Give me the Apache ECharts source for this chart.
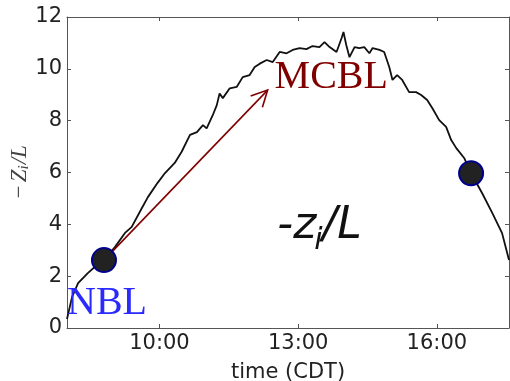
<!DOCTYPE html>
<html><head><meta charset="utf-8">
<script src="https://cdn.jsdelivr.net/npm/echarts@6/dist/echarts.min.js"></script>
<style>html,body{margin:0;padding:0;background:#fff}#c{width:510px;height:381px}</style>
</head><body><div id="c"></div>
<script>
// time in decimal hours (CDT)
const times = [8.00,8.11,8.24,8.45,8.63,8.80,9.04,9.25,9.40,9.62,9.75,9.96,10.12,10.33,10.48,10.66,10.81,10.94,11.02,11.15,11.24,11.30,11.37,11.52,11.67,11.80,11.95,12.06,12.17,12.32,12.45,12.60,12.75,12.88,13.03,13.18,13.31,13.46,13.57,13.68,13.83,13.94,13.98,14.04,14.11,14.22,14.32,14.43,14.54,14.61,14.76,14.86,14.97,15.04,15.14,15.25,15.40,15.55,15.66,15.79,15.90,16.05,16.20,16.31,16.42,16.59,16.74,16.98,17.20,17.41,17.56];
const ratio = [0.35,1.2,1.73,2.12,2.4,2.62,3.13,3.66,3.9,4.63,5.05,5.6,5.98,6.37,6.8,7.45,7.56,7.83,7.7,8.2,8.6,9.05,8.87,9.25,9.3,9.68,9.76,10.07,10.2,10.34,10.26,10.65,10.6,10.73,10.8,10.76,10.88,10.84,11.03,10.84,10.65,11.19,11.42,10.92,10.45,10.84,10.8,10.84,10.6,10.8,10.73,10.65,10.07,9.57,9.76,9.57,9.1,9.1,8.99,8.8,8.49,8.02,7.76,7.25,6.94,6.56,5.97,5.2,4.43,3.66,2.62];
const markedTimes = [8.80, 16.74];
const markedValues = [2.62, 5.97];
const arrowFrom = [8.80, 2.62];
const arrowTo = [12.34, 9.18];
const xTickHours = [10, 13, 16];
const xMin = 8, xMax = 17.56;
const yMin = 0, yMax = 12, yStep = 2;
const nblAnchor = [8.0, 0.96];
const mcblAnchor = [12.49, 9.68];
const ratioTextAnchor = [12.55, 3.40];

const chart = echarts.init(document.getElementById('c'), null, {renderer: 'canvas'});
const frame = '#555';
const fmtHour = v => String(Math.round(v)).padStart(2, '0') + ':00';
const tickFont = {fontFamily: 'DejaVu Sans', fontSize: 21, color: '#222'};

chart.setOption({
  animation: false,
  grid: {left: 67, right: 1, top: 17, bottom: 53, containLabel: false, outerBoundsMode: 'none'},
  xAxis: [{
    type: 'value', min: xMin, max: xMax, position: 'bottom',
    axisLine: {show: true, onZero: false, lineStyle: {color: frame, width: 1}},
    axisTick: {show: true, inside: true, length: 4, customValues: xTickHours, lineStyle: {color: frame}},
    axisLabel: Object.assign({show: true, margin: 5, customValues: xTickHours, formatter: fmtHour}, tickFont),
    splitLine: {show: false},
    name: 'time (CDT)', nameLocation: 'middle', nameGap: 34, nameMoveOverlap: false,
    nameTextStyle: {fontFamily: 'DejaVu Sans', fontSize: 21, color: '#222'}
  }, {
    type: 'value', min: xMin, max: xMax, position: 'top',
    axisLine: {show: true, onZero: false, lineStyle: {color: frame, width: 1}},
    axisTick: {show: true, inside: true, length: 4, customValues: xTickHours, lineStyle: {color: frame}},
    axisLabel: {show: false}, splitLine: {show: false}
  }],
  yAxis: [{
    type: 'value', min: yMin, max: yMax, interval: yStep, position: 'left',
    axisLine: {show: true, onZero: false, lineStyle: {color: frame, width: 1}},
    axisTick: {show: true, inside: true, length: 4, lineStyle: {color: frame}},
    axisLabel: Object.assign({show: true, margin: 5}, tickFont),
    splitLine: {show: false},
    name: '{n|−}{g| }{n|Z}{s|i}{n|/L}', nameLocation: 'middle', nameRotate: 90, nameGap: 35, nameMoveOverlap: false,
    nameTextStyle: {
      rich: {
        n: {fontFamily: 'Liberation Serif', fontStyle: 'italic', fontSize: 23, color: '#444'},
        g: {fontFamily: 'Liberation Serif', fontSize: 8, color: '#444'},
        s: {fontFamily: 'Liberation Serif', fontStyle: 'italic', fontSize: 15, color: '#444', padding: [9, 1, 0, 0]}
      }
    }
  }, {
    type: 'value', min: yMin, max: yMax, interval: yStep, position: 'right',
    axisLine: {show: true, onZero: false, lineStyle: {color: frame, width: 1}},
    axisTick: {show: true, inside: true, length: 4, lineStyle: {color: frame}},
    axisLabel: {show: false}, splitLine: {show: false}
  }],
  series: [{
    type: 'line', xAxisIndex: 0, yAxisIndex: 0,
    data: times.map((t, i) => [t, ratio[i]]),
    showSymbol: false, symbol: 'none',
    lineStyle: {color: '#111', width: 1.8}, z: 2
  }, {
    type: 'custom', xAxisIndex: 0, yAxisIndex: 0, z: 3,
    data: [[arrowFrom[0], arrowFrom[1], arrowTo[0], arrowTo[1]]],
    encode: {x: [0, 2], y: [1, 3]},
    renderItem: (params, api) => {
      const p0 = api.coord([api.value(0), api.value(1)]);
      const p1 = api.coord([api.value(2), api.value(3)]);
      const ang = Math.atan2(p1[1] - p0[1], p1[0] - p0[0]);
      const L = 18, a = 0.47;
      const l1 = [p1[0] - L * Math.cos(ang - a), p1[1] - L * Math.sin(ang - a)];
      const l2 = [p1[0] - L * Math.cos(ang + a), p1[1] - L * Math.sin(ang + a)];
      return {type: 'group', children: [
        {type: 'line', shape: {x1: p0[0], y1: p0[1], x2: p1[0], y2: p1[1]}, style: {stroke: '#800000', lineWidth: 1.6}},
        {type: 'polyline', shape: {points: [l1, p1, l2]}, style: {stroke: '#800000', lineWidth: 1.6, fill: null}}
      ]};
    }
  }, {
    type: 'scatter', xAxisIndex: 0, yAxisIndex: 0, z: 5,
    data: markedTimes.map((t, i) => [t, markedValues[i]]),
    symbol: 'circle', symbolSize: 24,
    itemStyle: {color: '#222', borderColor: '#00008b', borderWidth: 2, opacity: 1}
  }]
});

const px = d => chart.convertToPixel({gridIndex: 0}, d);
const pN = px(nblAnchor), pM = px(mcblAnchor), pR = px(ratioTextAnchor);
const mainSize = 44, subSize = 30;
const cv = document.createElement('canvas').getContext('2d');
cv.font = 'italic ' + mainSize + 'px "DejaVu Sans"';
const wMinusZ = cv.measureText('-z').width;
chart.setOption({
  graphic: [
    {type: 'text', x: pN[0], y: pN[1], z: 10,
      style: {text: 'NBL', fontFamily: 'Liberation Serif', fontSize: 40, fill: '#2a2aff', align: 'left', verticalAlign: 'middle'}},
    {type: 'text', x: pM[0], y: pM[1], z: 10,
      style: {text: 'MCBL', fontFamily: 'Liberation Serif', fontSize: 40, fill: '#800000', align: 'left', verticalAlign: 'middle'}},
    {type: 'group', x: pR[0], y: pR[1], z: 10, children: [
      {type: 'text', x: 0, y: -0.297 * mainSize,
        style: {text: '-z', fontFamily: 'DejaVu Sans', fontStyle: 'italic', fontSize: mainSize, fill: '#111', align: 'left', verticalAlign: 'middle'}},
      {type: 'text', x: wMinusZ - 2, y: 10 - 0.297 * subSize,
        style: {text: 'i', fontFamily: 'DejaVu Sans', fontStyle: 'italic', fontSize: subSize, fill: '#111', align: 'left', verticalAlign: 'middle'}},
      {type: 'text', x: wMinusZ + 6, y: -0.297 * mainSize,
        style: {text: '/L', fontFamily: 'DejaVu Sans', fontStyle: 'italic', fontSize: mainSize, fill: '#111', align: 'left', verticalAlign: 'middle'}}
    ]}
  ]
});
</script>
</body></html>
